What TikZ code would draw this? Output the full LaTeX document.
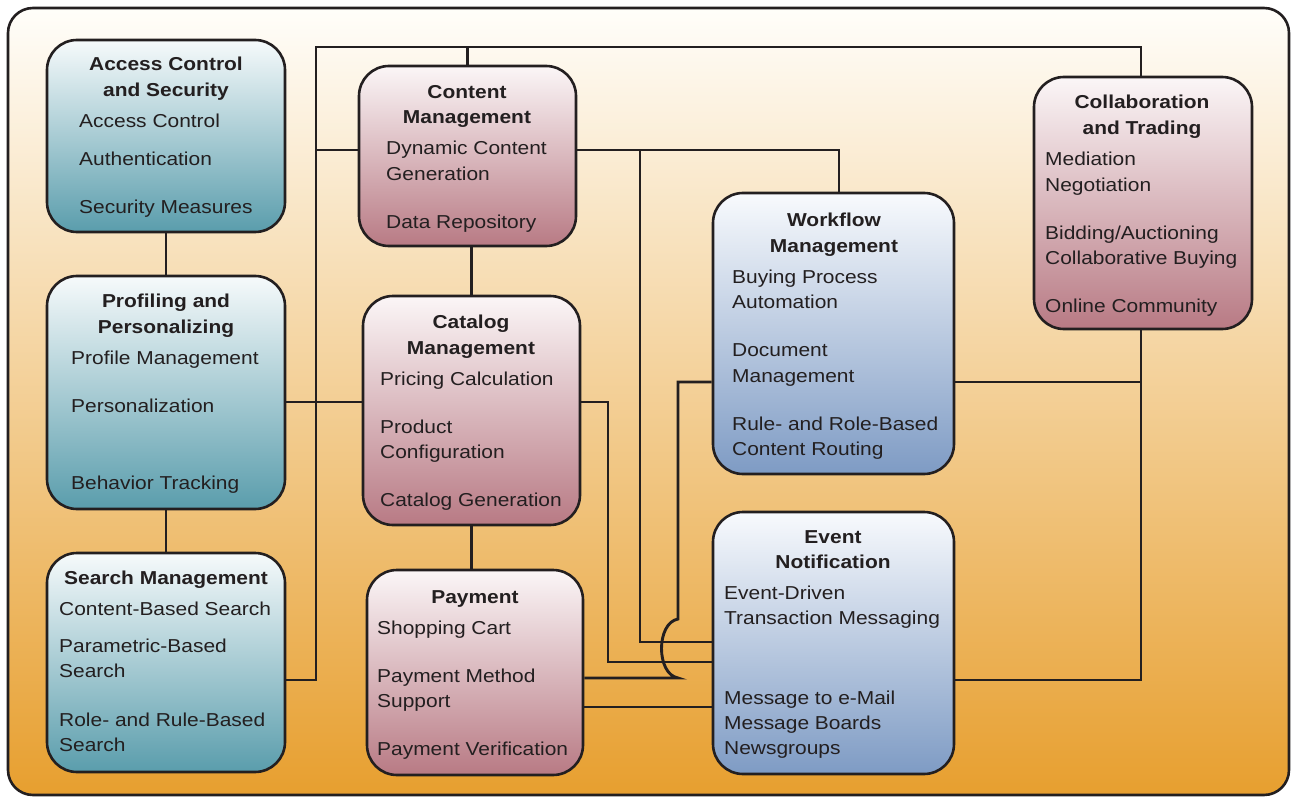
\documentclass[tikz,border=0pt]{standalone}
\usepackage{fontspec}
\setmainfont{Liberation Sans}[FakeStretch=1.12]
\definecolor{ink}{HTML}{231F20}
\definecolor{bgT}{HTML}{FFFEFA}
\definecolor{bgB}{HTML}{E79F2F}
\definecolor{tealT}{HTML}{F6FAFB}
\definecolor{tealB}{HTML}{5A9DAC}
\definecolor{pinkT}{HTML}{FBF6F7}
\definecolor{pinkB}{HTML}{B87A84}
\definecolor{blueT}{HTML}{F8FAFD}
\definecolor{blueB}{HTML}{7E9BC4}
\pgfdeclarelayer{bglayer}
\pgfdeclarelayer{wirelayer}
\pgfsetlayers{bglayer,wirelayer,main}
\begin{document}
\begin{tikzpicture}[x=1pt,y=-1pt,
  box/.style={draw=ink, line width=2.6pt, rounded corners=30pt, inner sep=0pt},
  tealbox/.style={box, top color=tealT, bottom color=tealB},
  pinkbox/.style={box, top color=pinkT, bottom color=pinkB},
  bluebox/.style={box, top color=blueT, bottom color=blueB},
  ttl/.style={anchor=base, font=\fontsize{18.7}{22}\selectfont\bfseries, text=ink, inner sep=0pt},
  itm/.style={anchor=base west, font=\fontsize{18.7}{22}\selectfont, text=ink, inner sep=0pt},
  wire/.style={draw=ink, line width=2.9pt}
]
\useasboundingbox (0,0) rectangle (1291,797);

% frame
\begin{pgfonlayer}{bglayer}
\node[draw=ink, line width=2.6pt, rounded corners=25pt, top color=bgT, bottom color=bgB,
      minimum width=1281pt, minimum height=787pt, inner sep=0pt] (frame) at (648.5,401.5) {};
\end{pgfonlayer}

% boxes
\node[tealbox, minimum width=238pt, minimum height=192pt] (ac) at (166,136) {};
\node[tealbox, minimum width=238pt, minimum height=233pt] (pp) at (166,392.5) {};
\node[tealbox, minimum width=238pt, minimum height=219pt] (sm) at (166,662.5) {};
\node[pinkbox, minimum width=217pt, minimum height=180pt] (cm) at (467.5,156) {};
\node[pinkbox, minimum width=217pt, minimum height=229pt] (cat) at (471.5,410.5) {};
\node[pinkbox, minimum width=216pt, minimum height=205pt] (pay) at (475,672.5) {};
\node[bluebox, minimum width=241pt, minimum height=281pt] (wf) at (833.5,333.5) {};
\node[bluebox, minimum width=241pt, minimum height=262pt] (ev) at (833.5,643) {};
\node[pinkbox, minimum width=218pt, minimum height=252pt] (ct) at (1143,203) {};

% junction coordinates
\coordinate (jtl) at (316,47);
\coordinate (jtr) at (1141,47);
\coordinate (jsl) at (316,680);
\coordinate (jcl) at (316,150);
\coordinate (jcr) at (839,150);
\coordinate (jcm) at (640,150);
\coordinate (jcmd) at (640,642);
\coordinate (jca) at (608,402);
\coordinate (jcad) at (608,662);
\coordinate (jwf) at (678,382);
\coordinate (jhop1) at (678,619);
\coordinate (jhop2) at (678,678);
\coordinate (jr) at (1141,382);
\coordinate (jrd) at (1141,680);

\begin{pgfonlayer}{wirelayer}
\draw[wire] (ac.south) -- (pp.north);
\draw[wire] (pp.south) -- (sm.north);
\draw[wire] (cat.north) -- (cat.north |- cm.south);
\draw[wire] (cat.south) -- (cat.south |- pay.north);
\draw[wire] (sm.east |- jsl) -- (jsl) -- (jtl) -- (jtr) -- (jtr |- ct.north);
\draw[wire] (cm.north |- jtl) -- (cm.north);
\draw[wire] (jcl) -- (cm.west |- jcl);
\draw[wire] (pp.east |- jca) -- (cat.west |- jca);
\draw[wire] (cm.east |- jcl) -- (jcr) -- (jcr |- wf.north);
\draw[wire] (jcm) -- (jcmd) -- (ev.west |- jcmd);
\draw[wire] (cat.east |- jca) -- (jca) -- (jcad) -- (ev.west |- jcad);
\draw[wire] (wf.west |- jwf) -- (jwf) -- (jhop1) .. controls (656,623) and (656,674) .. (jhop2) -- (pay.east |- jhop2);
\draw[wire] (pay.east |- 0,707) -- (ev.west |- 0,707);
\draw[wire] (wf.east |- jr) -- (jr);
\draw[wire] (jr |- ct.south) -- (jrd) -- (ev.east |- jrd);
\end{pgfonlayer}

% Access Control and Security
\node[ttl] (ac0) at (166,71) {Access Control};
\node[ttl] (ac1) at (166,97) {and Security};
\node[itm] (ac2) at (79,128) {Access Control};
\node[itm] (ac3) at (79,165) {Authentication};
\node[itm] (ac4) at (79,213) {Security Measures};

% Profiling
\node[ttl] (pp0) at (166,307) {Profiling and};
\node[ttl] (pp1) at (166,333) {Personalizing};
\node[itm] (pp2) at (71,364) {Profile Management};
\node[itm] (pp3) at (71,412) {Personalization};
\node[itm] (pp4) at (71,489) {Behavior Tracking};

% Search
\node[ttl] (sm0) at (166,584) {Search Management};
\node[itm] (sm1) at (59,615) {Content-Based Search};
\node[itm] (sm2) at (59,652) {Parametric-Based};
\node[itm] (sm3) at (59,677) {Search};
\node[itm] (sm4) at (59,726) {Role- and Rule-Based};
\node[itm] (sm5) at (59,751) {Search};

% Content Management
\node[ttl] (cm0) at (467,99) {Content};
\node[ttl] (cm1) at (467,124) {Management};
\node[itm] (cm2) at (386,155) {Dynamic Content};
\node[itm] (cm3) at (386,180) {Generation};
\node[itm] (cm4) at (386,229) {Data Repository};

% Catalog
\node[ttl] (cat0) at (471,328) {Catalog};
\node[ttl] (cat1) at (471,354) {Management};
\node[itm] (cat2) at (380,385) {Pricing Calculation};
\node[itm] (cat3) at (380,433) {Product};
\node[itm] (cat4) at (380,458) {Configuration};
\node[itm] (cat5) at (380,506) {Catalog Generation};

% Payment
\node[ttl] (pay0) at (475,603) {Payment};
\node[itm] (pay1) at (377,634) {Shopping Cart};
\node[itm] (pay2) at (377,682) {Payment Method};
\node[itm] (pay3) at (377,707) {Support};
\node[itm] (pay4) at (377,755) {Payment Verification};

% Workflow
\node[ttl] (wf0) at (834,226) {Workflow};
\node[ttl] (wf1) at (834,252) {Management};
\node[itm] (wf2) at (732,283) {Buying Process};
\node[itm] (wf3) at (732,308) {Automation};
\node[itm] (wf4) at (732,356) {Document};
\node[itm] (wf5) at (732,382) {Management};
\node[itm] (wf6) at (732,430) {Rule- and Role-Based};
\node[itm] (wf7) at (732,455) {Content Routing};

% Event Notification
\node[ttl] (ev0) at (833,543) {Event};
\node[ttl] (ev1) at (833,568) {Notification};
\node[itm] (ev2) at (724,599) {Event-Driven};
\node[itm] (ev3) at (724,624) {Transaction Messaging};
\node[itm] (ev4) at (724,704) {Message to e-Mail};
\node[itm] (ev5) at (724,729) {Message Boards};
\node[itm] (ev6) at (724,754) {Newsgroups};

% Collaboration
\node[ttl] (ct0) at (1142,109) {Collaboration};
\node[ttl] (ct1) at (1142,135) {and Trading};
\node[itm] (ct2) at (1045,166) {Mediation};
\node[itm] (ct3) at (1045,191) {Negotiation};
\node[itm] (ct4) at (1045,239) {Bidding/Auctioning};
\node[itm] (ct5) at (1045,264) {Collaborative Buying};
\node[itm] (ct6) at (1045,312) {Online Community};
\end{tikzpicture}
\end{document}
